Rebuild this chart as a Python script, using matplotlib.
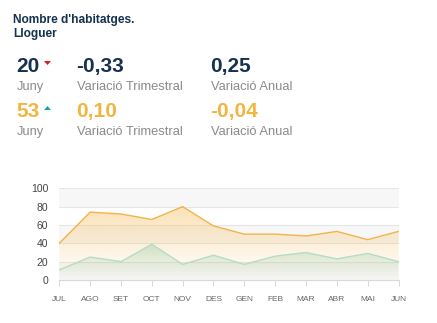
import numpy as np
import matplotlib
matplotlib.use("Agg")
import matplotlib.pyplot as plt
from matplotlib.patches import Polygon
from matplotlib.colors import to_rgb

plt.rcParams['font.family'] = ['Liberation Sans', 'DejaVu Sans']

# Data
months = ["JUL", "AGO", "SET", "OCT", "NOV", "DES", "GEN", "FEB", "MAR", "ABR", "MAI", "JUN"]
series_orange = [40, 74, 72, 66, 80, 59, 50, 50, 48, 53, 44, 53]
series_green = [11, 25, 20, 39, 17, 27, 17, 26, 30, 23, 29, 20]
yticks = [0, 20, 40, 60, 80, 100]

title_lines = ["Nombre d'habitatges.", "Lloguer"]
row1 = ["20", "Juny", "-0,33", "Variació Trimestral", "0,25", "Variació Anual"]
row2 = ["53", "Juny", "0,10", "Variació Trimestral", "-0,04", "Variació Anual"]

NAVY = "#14324f"
ORANGE = "#f2b53f"
GRAY = "#8a8a8a"

W, H = 437, 323
fig = plt.figure(figsize=(W / 100, H / 100), dpi=100)
fig.patch.set_facecolor("white")


def fx(x):
    return x / W


def fy(y):
    return 1 - y / H


# Header
fig.text(fx(13), fy(22.5), title_lines[0], fontsize=8.6, fontweight="bold",
         color=NAVY, va="baseline")
fig.text(fx(13), fy(36.5), title_lines[1], fontsize=8.6, fontweight="bold",
         color=NAVY, va="baseline")

for vals, base, color in [(row1, 71.7, NAVY), (row2, 116.7, ORANGE)]:
    fig.text(fx(16.5), fy(base), vals[0], fontsize=15, fontweight="bold",
             color=color, va="baseline")
    fig.text(fx(17), fy(base + 18.5), vals[1], fontsize=9.3, color=GRAY, va="baseline")
    fig.text(fx(76.5), fy(base), vals[2], fontsize=15, fontweight="bold",
             color=color, va="baseline")
    fig.text(fx(77), fy(base + 18.5), vals[3], fontsize=9.3, color=GRAY, va="baseline")
    fig.text(fx(210.5), fy(base), vals[4], fontsize=15, fontweight="bold",
             color=color, va="baseline")
    fig.text(fx(211), fy(base + 18.5), vals[5], fontsize=9.3, color=GRAY, va="baseline")

# Trend markers
down = Polygon([(fx(44), fy(61)), (fx(51), fy(61)), (fx(47.5), fy(65))],
               closed=True, transform=fig.transFigure, color="#cc2229", lw=0)
up = Polygon([(fx(44), fy(110)), (fx(51), fy(110)), (fx(47.5), fy(106))],
             closed=True, transform=fig.transFigure, color="#1aa6a6", lw=0)
fig.add_artist(down)
fig.add_artist(up)

# Chart
left, right, top, bottom = 59.3, 398.5, 188.3, 280
ax = fig.add_axes([fx(left), fy(bottom), fx(right - left), (bottom - top) / H])
x = np.arange(len(months))

# Alternating bands and grid
for lo in (0, 40, 80):
    ax.axhspan(lo, lo + 20, color="#f7f7f7", lw=0, zorder=0)
for v in yticks[1:]:
    ax.axhline(v, color="#e6e6e6", lw=0.8, zorder=0.5)


def gradient_area(values, color, alpha_top, zorder):
    poly = ax.fill_between(x, values, 0, color="none", lw=0, zorder=zorder)
    vmax = max(values)
    rgb = to_rgb(color)
    n = 256
    grad = np.zeros((n, 1, 4))
    grad[:, 0, :3] = rgb
    grad[:, 0, 3] = np.linspace(alpha_top, 0.0, n)
    im = ax.imshow(grad, extent=[0, len(values) - 1, 0, vmax], origin="upper",
                   aspect="auto", zorder=zorder, interpolation="bilinear")
    paths = poly.get_paths()
    if paths:
        im.set_clip_path(paths[0], transform=ax.transData)


gradient_area(series_orange, "#f6b64a", 0.40, 1)
gradient_area(series_green, "#7fbf8f", 0.34, 2)

ax.plot(x, series_orange, color="#f2b44a", lw=1.0, zorder=3)
ax.plot(x, series_green, color="#b5dcc6", lw=1.0, zorder=3)

ax.set_xlim(0, len(months) - 1)
ax.set_ylim(0, 100)

for s in ("top", "right", "left"):
    ax.spines[s].set_visible(False)
ax.spines["bottom"].set_color("#d8d8d8")
ax.spines["bottom"].set_linewidth(0.9)
ax.spines["bottom"].set_zorder(4)

ax.set_xticks(x)
ax.set_xticklabels(months, fontsize=6, color="#666666")
ax.tick_params(axis="x", length=4.5, width=0.7, color="#d8d8d8", pad=7)
ax.set_yticks(yticks)
ax.set_yticklabels([str(v) for v in yticks], fontsize=7.5, color="#444444")
ax.tick_params(axis="y", length=0, pad=8)
ax.set_facecolor("white")

fig.savefig("out.png", dpi=100, facecolor="white")
